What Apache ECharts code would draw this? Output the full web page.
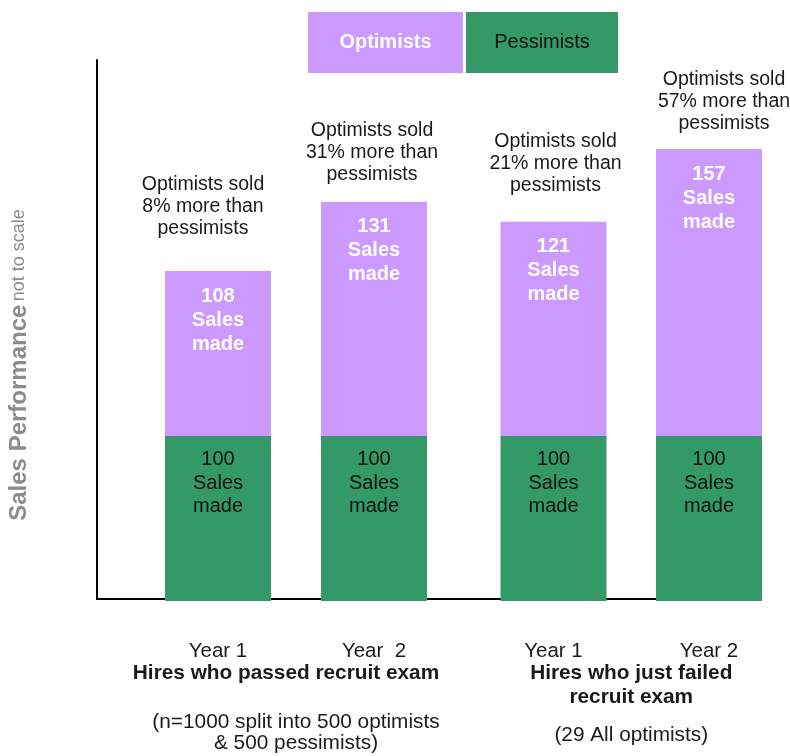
<!DOCTYPE html>
<html>
<head>
<meta charset="utf-8">
<script src="https://cdn.jsdelivr.net/npm/echarts@6/dist/echarts.min.js"></script>
<style>html,body{margin:0;padding:0;background:#fff}#c{width:790px;height:756px}</style>
</head>
<body>
<div id="c"></div>
<script>
// ---- data ----
const yearsPassed = ['Year 1', 'Year  2'];
const yearsFailed = ['Year 1', 'Year 2'];
const groupNames = ['Hires who passed recruit exam', 'Hires who just failed\nrecruit exam'];
const groupNotes = ['(n=1000 split into 500 optimists\n& 500 pessimists)', '(29 All optimists)'];
const pessimistSales = [100, 100, 100, 100];
const optimistSales = [108, 131, 121, 157];
const percentMore = [8, 31, 21, 57];
// chart is "not to scale": segment heights as drawn in the picture (pessimist segment = 100)
const pessimistDrawn = [100, 100, 100, 100];
const optimistDrawn = [100, 142, 130, 174];
const seriesNames = ['Optimists', 'Pessimists'];
const axisTitle = ['Sales Performance', 'not to scale'];

// ---- layout helpers (not data) ----
const noteNudge = [[-15, -31], [-2, -16], [2, -25], [15, -14]];
const FONT = "'Liberation Sans', Arial, sans-serif";
const PURPLE = '#CC99FF', GREEN = '#339966';

function groupName(i) {
  const b = groupNames[i].split('\n').map(l => '{b' + i + '|' + l + '}');
  const n = groupNotes[i].split('\n').map(l => '{n|' + l + '}');
  return b.concat(['{g' + i + '| }']).concat(n).join('\n');
}

const grids = [
  {left: 97, right: 30, top: 60, bottom: 157, outerBoundsMode: 'none'},     // frame
  {left: 140, width: 312, top: 60, bottom: 155, outerBoundsMode: 'none'},  // passed
  {left: 475.75, width: 311, top: 60, bottom: 155, outerBoundsMode: 'none'} // failed
];

const xAxes = [
  {gridIndex: 0, type: 'value', min: 0, max: 1, z: 0, axisLine: {show: true, lineStyle: {color: '#000', width: 2}},
   axisTick: {show: false}, axisLabel: {show: false}, splitLine: {show: false}},
];
const yAxes = [
  {gridIndex: 0, type: 'value', min: 0, max: 1, z: 0, axisLine: {show: true, lineStyle: {color: '#000', width: 2}},
   axisTick: {show: false}, axisLabel: {show: false}, splitLine: {show: false}},
];
const boldName = {fontFamily: FONT, fontSize: 20.8, fontWeight: 'bold', color: '#1a1a1a', lineHeight: 24, align: 'center'};
const richName = {
  b0: Object.assign({}, boldName, {padding: [0, 20, 0, 0]}),
  b1: Object.assign({}, boldName),
  n: {fontFamily: FONT, fontSize: 20.8, color: '#1a1a1a', lineHeight: 21, align: 'center'},
  g0: {fontSize: 10, lineHeight: 26.5, align: 'center'},
  g1: {fontSize: 10, lineHeight: 15.5, align: 'center'}
};
[yearsPassed, yearsFailed].forEach((cats, gi) => {
  xAxes.push({
    gridIndex: gi + 1, type: 'category', data: cats,
    axisLine: {show: false}, axisTick: {show: false},
    axisLabel: {fontFamily: FONT, fontSize: 20.5, color: '#1a1a1a', margin: 40},
    name: groupName(gi), nameLocation: 'middle', nameGap: 60, nameMoveOverlap: false,
    nameTextStyle: {rich: richName}
  });
  yAxes.push({
    gridIndex: gi + 1, type: 'value', min: 0, max: 328,
    axisLine: {show: false}, axisTick: {show: false}, axisLabel: {show: false}, splitLine: {show: false}
  });
});

const series = [];
[0, 1].forEach(gi => {
  const idx = [gi * 2, gi * 2 + 1];
  series.push({
    name: 'Pessimists', type: 'bar', xAxisIndex: gi + 1, yAxisIndex: gi + 1, stack: 's' + gi,
    barWidth: 106, z: 5, itemStyle: {color: GREEN},
    data: idx.map(i => pessimistDrawn[i]),
    label: {show: true, position: 'insideTop', distance: 12, fontFamily: FONT, fontSize: 20,
      color: '#111', lineHeight: 23.5,
      formatter: p => pessimistSales[idx[p.dataIndex]] + '\nSales\nmade'}
  });
  series.push({
    name: 'Optimists', type: 'bar', xAxisIndex: gi + 1, yAxisIndex: gi + 1, stack: 's' + gi,
    barWidth: 106, z: 5, itemStyle: {color: PURPLE},
    data: idx.map(i => optimistDrawn[i]),
    label: {show: true, position: 'insideTop', distance: 13, fontFamily: FONT, fontSize: 20,
      fontWeight: 'bold', color: '#fff', lineHeight: 24,
      formatter: p => optimistSales[idx[p.dataIndex]] + '\nSales\nmade'}
  });
  series.push({
    name: 'note', type: 'bar', xAxisIndex: gi + 1, yAxisIndex: gi + 1, stack: 's' + gi,
    barWidth: 106, z: 5, itemStyle: {color: 'transparent'}, silent: true,
    data: idx.map(i => ({
      value: 0,
      label: {offset: [noteNudge[i][0], noteNudge[i][1] + 5]}
    })),
    label: {show: true, position: 'top', distance: 5, fontFamily: FONT, fontSize: 19.5,
      color: '#1a1a1a', lineHeight: 22,
      formatter: p => 'Optimists sold\n' + percentMore[idx[p.dataIndex]] + '% more than\npessimists'}
  });
});

const chart = echarts.init(document.getElementById('c'), null, {renderer: 'canvas'});
chart.setOption({
  animation: false,
  backgroundColor: '#fff',
  grid: grids,
  xAxis: xAxes,
  yAxis: yAxes,
  legend: {
    data: seriesNames, top: 12, left: 303, padding: 0, itemWidth: 0, itemHeight: 0, itemGap: -2,
    icon: 'rect', selectedMode: true,
    formatter: name => (name === 'Optimists' ? '{o|' : '{p|') + name + '}',
    textStyle: {
      rich: {
        o: {width: 155, height: 61, lineHeight: 61, align: 'center', backgroundColor: PURPLE,
            color: '#fff', fontWeight: 'bold', fontSize: 20, fontFamily: FONT},
        p: {width: 152, height: 61, lineHeight: 61, align: 'center', backgroundColor: GREEN,
            color: '#111', fontSize: 20, fontFamily: FONT}
      }
    }
  },
  graphic: [{
    type: 'text', x: 19, y: 365, rotation: Math.PI / 2,
    style: {
      text: '{a|' + axisTitle[0] + '} {c|' + axisTitle[1] + '}',
      align: 'center', verticalAlign: 'middle',
      rich: {
        a: {fontFamily: FONT, fontSize: 24, fontWeight: 'bold', fill: '#8c8c8c', color: '#8c8c8c'},
        c: {fontFamily: FONT, fontSize: 18, fill: '#8c8c8c', color: '#8c8c8c'}
      }
    }
  }],
  series: series
});
</script>
</body>
</html>
